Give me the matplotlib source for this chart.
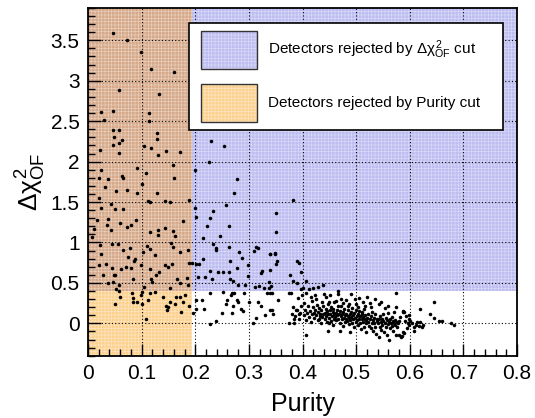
import numpy as np
import matplotlib
matplotlib.use("Agg")
import matplotlib.pyplot as plt
from matplotlib.patches import Rectangle
from matplotlib.ticker import MultipleLocator

plt.rcParams["font.family"] = ["Liberation Sans", "DejaVu Sans"]
plt.rcParams["mathtext.fontset"] = "custom"
plt.rcParams["mathtext.rm"] = "Liberation Sans"
plt.rcParams["mathtext.it"] = "Liberation Sans"
plt.rcParams["mathtext.bf"] = "Liberation Sans:bold"
plt.rcParams["hatch.linewidth"] = 0.45

# ---- cut values and axis ranges ----
PURITY_CUT = 0.193
DCHI2_CUT = 0.40
X_RANGE = (0.0, 0.8)
Y_RANGE = (-0.4, 3.9)

x_ticks = [0.0, 0.1, 0.2, 0.3, 0.4, 0.5, 0.6, 0.7, 0.8]
x_tick_labels = ["0", "0.1", "0.2", "0.3", "0.4", "0.5", "0.6", "0.7", "0.8"]
y_ticks = [0.0, 0.5, 1.0, 1.5, 2.0, 2.5, 3.0, 3.5]
y_tick_labels = ["0", "0.5", "1", "1.5", "2", "2.5", "3", "3.5"]

legend_labels = [r"Detectors rejected by $\Delta\chi^{2}_{\mathrm{OF}}$ cut",
                 "Detectors rejected by Purity cut"]

# ---- detectors: (purity, delta chi2) ----
low_purity_high_chi2 = [
    (0.046, 3.59), (0.073, 3.50), (0.099, 3.36), (0.117, 3.14), (0.160, 3.11),
    (0.057, 2.89), (0.133, 2.84), (0.024, 2.61), (0.046, 2.63), (0.030, 2.52),
    (0.114, 2.60), (0.114, 2.50), (0.046, 2.39), (0.057, 2.39), (0.128, 2.35),
    (0.048, 2.30), (0.063, 2.27), (0.129, 2.28), (0.057, 2.23), (0.046, 2.21),
    (0.022, 2.14), (0.057, 2.11), (0.105, 2.19), (0.118, 2.17), (0.130, 2.08),
    (0.145, 2.13), (0.171, 2.12), (0.158, 1.96), (0.025, 1.90), (0.091, 1.92),
    (0.108, 1.86),
]

low_purity_mid_chi2 = [
    (0.020, 1.80), (0.064, 1.82), (0.031, 1.68), (0.092, 1.61), (0.129, 1.61),
    (0.020, 1.55), (0.053, 1.64), (0.160, 1.80), (0.025, 1.43), (0.042, 1.48),
    (0.051, 1.42), (0.065, 1.42), (0.112, 1.51), (0.115, 1.50), (0.143, 1.51),
    (0.152, 1.50), (0.011, 1.17), (0.016, 1.28), (0.038, 1.29), (0.043, 1.16),
    (0.059, 1.24), (0.073, 1.19), (0.081, 1.22), (0.090, 1.28), (0.115, 1.13),
    (0.131, 1.15), (0.131, 1.09), (0.143, 1.18), (0.158, 1.14), (0.177, 1.26),
    (0.022, 0.97), (0.025, 0.86), (0.045, 0.98), (0.056, 0.98), (0.065, 0.91),
    (0.074, 0.82), (0.079, 0.93), (0.087, 0.79), (0.102, 0.88), (0.110, 0.96),
    (0.115, 0.92), (0.124, 0.84), (0.155, 0.99), (0.159, 0.95), (0.172, 0.88),
    (0.186, 0.91), (0.188, 0.75), (0.020, 0.72), (0.034, 0.73), (0.028, 0.60),
    (0.048, 0.60), (0.051, 0.60), (0.062, 0.67), (0.071, 0.70), (0.081, 0.69),
    (0.085, 0.77), (0.099, 0.72), (0.116, 0.67), (0.126, 0.60), (0.133, 0.64),
    (0.144, 0.72), (0.150, 0.70), (0.157, 0.74), (0.166, 0.55), (0.172, 0.50),
    (0.185, 0.56), (0.186, 0.48), (0.084, 0.55), (0.117, 0.55), (0.119, 0.51),
    (0.037, 0.50), (0.047, 0.51), (0.057, 0.48), (0.104, 0.45), (0.152, 0.44),
    (0.101, 1.72), (0.073, 1.65), (0.037, 1.78), (0.066, 1.80), (0.189, 1.52),
    (0.053, 0.43), (0.044, 0.68), (0.008, 1.07), (0.035, 1.22), (0.162, 1.08),
]

low_purity_low_chi2 = [
    (0.058, 0.40), (0.059, 0.33), (0.082, 0.38), (0.084, 0.26), (0.091, 0.26),
    (0.099, 0.35), (0.101, 0.24), (0.112, 0.29), (0.115, 0.37), (0.124, 0.39),
    (0.140, 0.33), (0.149, 0.20), (0.152, 0.26), (0.164, 0.33), (0.177, 0.26),
    (0.180, 0.35), (0.189, 0.22), (0.109, 0.06), (0.050, 0.24), (0.100, 0.39),
    (0.084, 0.31), (0.146, 0.22), (0.148, 0.16), (0.174, 0.14), (0.162, 0.24),
    (0.171, 0.33),
]

high_chi2 = [
    (0.229, 2.25), (0.254, 2.19), (0.225, 1.99), (0.200, 1.90), (0.278, 1.78),
    (0.273, 1.61), (0.382, 1.53), (0.258, 1.46), (0.200, 1.43), (0.233, 1.39),
    (0.351, 1.36), (0.228, 1.30), (0.202, 1.31), (0.222, 1.20), (0.263, 1.20),
    (0.350, 1.13), (0.215, 1.06), (0.247, 1.08), (0.233, 0.98), (0.238, 0.93),
    (0.239, 0.91), (0.263, 0.95), (0.313, 0.95), (0.317, 0.93), (0.309, 0.90),
    (0.281, 0.88), (0.339, 0.86), (0.349, 0.86), (0.288, 0.81), (0.352, 0.77),
    (0.350, 0.74), (0.264, 0.77), (0.215, 0.79), (0.194, 0.75), (0.201, 0.73),
    (0.207, 0.74), (0.277, 0.69), (0.298, 0.72), (0.389, 0.77), (0.394, 0.75),
    (0.339, 0.66), (0.227, 0.65), (0.242, 0.64), (0.252, 0.64), (0.263, 0.64),
    (0.325, 0.65), (0.323, 0.62), (0.376, 0.60), (0.205, 0.57), (0.218, 0.57),
    (0.232, 0.55), (0.264, 0.55), (0.270, 0.53), (0.299, 0.58), (0.337, 0.51),
    (0.383, 0.53), (0.389, 0.50), (0.406, 0.53), (0.280, 0.48), (0.292, 0.47),
    (0.311, 0.45), (0.318, 0.46), (0.328, 0.44), (0.337, 0.44), (0.398, 0.43),
    (0.401, 0.44), (0.348, 0.87), (0.340, 0.86), (0.342, 0.46), (0.397, 0.64),
    (0.412, 0.43), (0.419, 0.44), (0.428, 0.45), (0.439, 0.47),
]

mid_purity_low_chi2 = [
    (0.227, 0.38), (0.252, 0.39), (0.269, 0.38), (0.267, 0.35), (0.273, 0.37),
    (0.290, 0.38), (0.334, 0.38), (0.339, 0.38), (0.343, 0.37), (0.375, 0.37),
    (0.379, 0.38), (0.213, 0.29), (0.202, 0.29), (0.260, 0.29), (0.277, 0.29),
    (0.280, 0.27), (0.301, 0.26), (0.317, 0.27), (0.354, 0.29), (0.391, 0.31),
    (0.202, 0.18), (0.216, 0.18), (0.258, 0.24), (0.270, 0.22), (0.286, 0.18),
    (0.289, 0.15), (0.323, 0.21), (0.339, 0.17), (0.344, 0.16), (0.249, 0.13),
    (0.269, 0.13), (0.314, 0.07), (0.330, 0.10), (0.345, 0.12), (0.382, 0.20),
    (0.388, 0.16), (0.394, 0.12), (0.375, 0.00), (0.385, 0.06), (0.228, -0.01),
    (0.239, 0.03), (0.308, 0.00), (0.195, 0.13),
]

high_purity_low_chi2 = [
    (0.381, 0.12), (0.386, 0.09), (0.389, 0.16), (0.393, 0.05), (0.396, 0.13),
    (0.398, 0.22), (0.384, 0.00), (0.399, 0.35),
    (0.402, 0.10), (0.404, 0.17), (0.406, 0.04), (0.407, 0.37), (0.409, 0.13),
    (0.411, 0.21), (0.412, 0.08), (0.414, 0.15), (0.416, 0.02), (0.417, 0.28),
    (0.418, 0.11), (0.419, 0.20), (0.407, -0.15), (0.403, 0.25), (0.415, 0.33),
    (0.421, 0.13), (0.422, 0.07), (0.423, 0.35), (0.424, 0.17), (0.426, 0.10),
    (0.427, 0.23), (0.428, 0.04), (0.429, 0.14), (0.431, 0.19), (0.432, 0.09),
    (0.433, 0.12), (0.434, 0.01), (0.435, 0.16), (0.436, 0.26), (0.437, 0.08),
    (0.438, 0.22), (0.439, 0.11), (0.425, 0.30), (0.430, 0.06), (0.440, 0.36),
    (0.441, 0.13), (0.442, 0.05), (0.443, 0.18), (0.444, 0.09), (0.445, 0.15),
    (0.446, 0.02), (0.447, 0.24), (0.447, -0.09), (0.448, 0.11), (0.449, 0.27),
    (0.450, 0.07), (0.451, 0.16), (0.452, 0.12), (0.453, 0.03), (0.454, 0.20),
    (0.455, 0.09), (0.456, 0.14), (0.457, -0.02), (0.458, 0.06), (0.459, 0.26),
    (0.459, 0.11), (0.443, 0.32), (0.452, 0.35), (0.456, 0.18), (0.449, 0.00),
    (0.461, 0.08), (0.462, 0.13), (0.463, 0.04), (0.464, 0.17), (0.465, 0.10),
    (0.466, 0.36), (0.466, 0.21), (0.467, 0.06), (0.468, 0.12), (0.469, -0.09),
    (0.469, 0.01), (0.470, 0.15), (0.471, 0.09), (0.472, 0.22), (0.473, 0.05),
    (0.474, 0.11), (0.475, -0.03), (0.476, 0.14), (0.477, 0.07), (0.478, 0.18),
    (0.479, 0.02), (0.479, 0.10), (0.466, 0.40), (0.471, 0.30), (0.476, 0.25),
    (0.463, 0.28),
    (0.481, 0.29), (0.481, 0.06), (0.482, 0.12), (0.483, 0.03), (0.484, 0.09),
    (0.485, 0.16), (0.486, -0.01), (0.487, 0.24), (0.487, 0.07), (0.488, 0.11),
    (0.489, -0.11), (0.489, 0.04), (0.490, 0.14), (0.491, 0.36), (0.491, 0.08),
    (0.492, 0.19), (0.493, 0.01), (0.494, 0.10), (0.495, 0.05), (0.496, -0.05),
    (0.496, 0.13), (0.497, 0.30), (0.498, 0.07), (0.499, 0.02), (0.499, 0.17),
    (0.485, 0.21),
    (0.500, 0.24), (0.501, 0.09), (0.502, 0.04), (0.503, 0.12), (0.504, -0.02),
    (0.505, 0.06), (0.506, 0.31), (0.506, 0.15), (0.507, 0.01), (0.508, 0.09),
    (0.509, -0.07), (0.510, 0.05), (0.511, 0.12), (0.512, 0.27), (0.512, 0.02),
    (0.513, 0.08), (0.514, -0.04), (0.515, 0.18), (0.516, 0.06), (0.517, 0.10),
    (0.518, 0.00), (0.519, -0.11), (0.519, 0.04), (0.503, 0.20), (0.510, 0.14),
    (0.516, 0.22),
    (0.521, 0.07), (0.522, 0.02), (0.523, 0.11), (0.524, -0.03), (0.525, 0.25),
    (0.526, 0.05), (0.527, -0.06), (0.528, 0.09), (0.529, 0.00), (0.530, 0.14),
    (0.531, 0.04), (0.532, -0.09), (0.533, 0.07), (0.534, 0.01), (0.535, 0.30),
    (0.535, -0.04), (0.536, 0.11), (0.537, -0.13), (0.538, 0.03), (0.539, 0.06),
    (0.528, 0.20), (0.520, 0.33),
    (0.541, 0.00), (0.542, 0.05), (0.543, 0.24), (0.543, -0.17), (0.544, -0.05),
    (0.545, 0.09), (0.546, 0.27), (0.546, 0.02), (0.547, -0.08), (0.548, 0.06),
    (0.549, -0.02), (0.550, 0.12), (0.551, 0.03), (0.552, -0.11), (0.553, 0.19),
    (0.554, 0.01), (0.555, -0.04), (0.556, 0.07), (0.557, -0.14), (0.558, 0.04),
    (0.559, 0.13), (0.559, -0.01),
    (0.560, 0.22), (0.561, -0.20), (0.562, 0.02), (0.563, -0.06), (0.564, 0.05),
    (0.565, 0.00), (0.566, -0.03), (0.567, 0.08), (0.568, 0.03), (0.569, -0.09),
    (0.570, 0.01), (0.571, 0.14), (0.572, -0.02), (0.573, 0.04), (0.574, 0.37),
    (0.574, -0.15), (0.575, 0.20), (0.576, 0.02), (0.577, -0.05), (0.578, 0.00),
    (0.579, 0.03),
    (0.580, -0.15), (0.582, 0.08), (0.584, -0.17), (0.585, -0.16), (0.587, 0.14),
    (0.588, -0.11), (0.588, 0.15), (0.590, -0.12), (0.590, 0.14), (0.592, 0.03),
    (0.593, 0.09), (0.594, -0.06), (0.596, 0.01), (0.598, 0.05), (0.599, 0.10),
    (0.599, -0.02),
    (0.601, 0.03), (0.605, 0.00), (0.607, -0.04), (0.608, -0.09), (0.611, -0.02),
    (0.614, 0.02), (0.618, -0.03), (0.619, 0.18), (0.623, -0.05), (0.625, -0.02),
    (0.620, 0.02), (0.638, 0.12), (0.645, 0.27), (0.646, 0.07), (0.654, 0.03),
    (0.661, 0.03), (0.677, 0.01), (0.682, -0.02),
]

# ---- colours ----
BLUE_FILL = "#bdbdf2"
ORANGE_FILL = "#fcd18f"
BOTH_FILL = "#d6a98a"
TEXTURE = (1, 1, 1, 0.45)
TEXTURE_HATCH = "+++++"


def shaded_box(x0, y0, w, h, colour, **kw):
    """Filled rectangle with the fine mesh texture laid over it."""
    ax.add_patch(Rectangle((x0, y0), w, h, facecolor=colour,
                           edgecolor="none", zorder=0.5, **kw))
    ax.add_patch(Rectangle((x0, y0), w, h, facecolor="none",
                           edgecolor=TEXTURE, hatch=TEXTURE_HATCH, lw=0,
                           zorder=0.6, **kw))


fig = plt.figure(figsize=(5.35, 4.18), dpi=100)
ax = fig.add_axes([0.1645, 0.149, 0.8019, 0.832])
ax.set_xlim(*X_RANGE)
ax.set_ylim(*Y_RANGE)

# rejection regions
shaded_box(PURITY_CUT, DCHI2_CUT, X_RANGE[1] - PURITY_CUT,
           Y_RANGE[1] - DCHI2_CUT, BLUE_FILL)
shaded_box(X_RANGE[0], Y_RANGE[0], PURITY_CUT - X_RANGE[0],
           DCHI2_CUT - Y_RANGE[0], ORANGE_FILL)
shaded_box(X_RANGE[0], DCHI2_CUT, PURITY_CUT - X_RANGE[0],
           Y_RANGE[1] - DCHI2_CUT, BOTH_FILL)

# detectors
groups = [low_purity_high_chi2, low_purity_mid_chi2, low_purity_low_chi2,
          high_chi2, mid_purity_low_chi2, high_purity_low_chi2]
pts = np.array([p for g in groups for p in g])
ax.scatter(pts[:, 0], pts[:, 1], s=6.5, color="black", linewidths=0, zorder=3)

# axes styling
ax.set_xticks(x_ticks, x_tick_labels)
ax.set_yticks(y_ticks, y_tick_labels)
ax.xaxis.set_minor_locator(MultipleLocator(0.02))
ax.yaxis.set_minor_locator(MultipleLocator(0.1))
ax.tick_params(which="both", direction="in", top=False, right=False,
               labelsize=15, width=1.0, colors="black")
ax.tick_params(which="major", length=9, pad=6)
ax.tick_params(which="minor", length=5)
ax.grid(True, which="major", color="black", linestyle=(0, (1, 2)), lw=0.8)
ax.set_axisbelow(False)
for sp in ax.spines.values():
    sp.set_linewidth(1.3)
    sp.set_zorder(4)

ax.set_xlabel("Purity", fontsize=18)
ax.xaxis.set_label_coords(0.5, -0.105)
ax.set_ylabel(r"$\Delta\chi^{2}_{\mathrm{OF}}$", fontsize=19)
ax.yaxis.set_label_coords(-0.093, 0.5)

# legend box
ax.add_patch(Rectangle((0.235, 0.649), 0.732, 0.308, transform=ax.transAxes,
                       facecolor="white", edgecolor="black", lw=1.2, zorder=5))
for i, (lab, col) in enumerate(zip(legend_labels, [BLUE_FILL, ORANGE_FILL])):
    y0 = 0.825 - i * 0.153
    ax.add_patch(Rectangle((0.263, y0), 0.130, 0.109, transform=ax.transAxes,
                           facecolor=col, edgecolor="none", zorder=6))
    ax.add_patch(Rectangle((0.263, y0), 0.130, 0.109, transform=ax.transAxes,
                           facecolor="none", edgecolor=TEXTURE,
                           hatch=TEXTURE_HATCH, lw=0, zorder=6.1))
    ax.add_patch(Rectangle((0.263, y0), 0.130, 0.109, transform=ax.transAxes,
                           facecolor="none", edgecolor="#333333", lw=1.0,
                           zorder=6.2))
    ax.text(0.420, y0 + 0.054, lab, transform=ax.transAxes, fontsize=11,
            va="center", ha="left", zorder=7)

fig.savefig("out.png", dpi=100)
